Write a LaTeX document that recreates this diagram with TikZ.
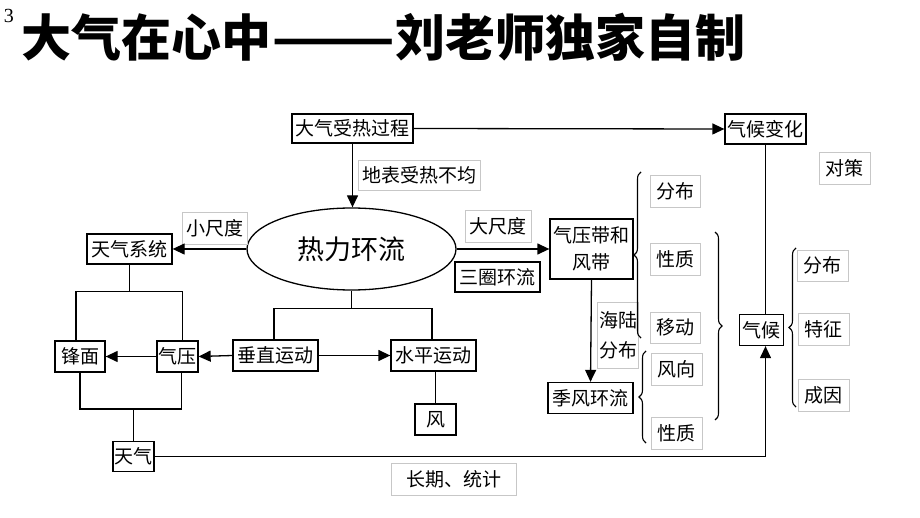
\documentclass[tikz,border=0pt]{standalone}
\usepackage{fontspec}
\newfontfamily\cjk{Noto Sans CJK SC}
\newfontfamily\tnr{Liberation Serif}
\usetikzlibrary{arrows.meta,shapes.geometric,decorations.pathreplacing,calc}
\begin{document}
\begin{tikzpicture}[x=1pt,y=-1pt,
  bx/.style={draw=black,line width=1.3pt,inner sep=0pt,font=\cjk\fontsize{19}{23}\selectfont,align=center},
  gbx/.style={draw=black!22,line width=0.8pt,inner sep=0pt,font=\cjk\fontsize{19}{23}\selectfont,align=center},
  ln/.style={line width=1.3pt},
  arr/.style={line width=1.3pt,-{Triangle[length=12pt,width=11pt]}},
  brc/.style={line width=1.1pt,decorate,decoration={brace,amplitude=7pt}}
]
\useasboundingbox (0,0) rectangle (920,518);
% title
\node[font=\tnr\fontsize{20}{22}\selectfont,inner sep=0pt] (num) at (9,16) {3};
\node[anchor=west,inner sep=0pt,font=\cjk\bfseries\fontsize{50}{55}\selectfont] (title) at (21,37) {大气在心中\scalebox{1.45}[1]{——}刘老师独家自制};
% black boxes
\node[bx,minimum width=121pt,minimum height=29pt] (heat) at (352.5,128.5) {大气受热过程};
\node[bx,minimum width=81pt,minimum height=30pt] (climch) at (765.5,129) {气候变化};
\node[bx,minimum width=85pt,minimum height=30pt] (tqxt) at (129.5,249) {天气系统};
\node[bx,minimum width=85pt,minimum height=30pt] (sqhl) at (497.5,277) {三圈环流};
\node[bx,minimum width=83pt,minimum height=60pt,font=\cjk\fontsize{19}{27}\selectfont] (qyd) at (591.5,249) {气压带和\\风带};
\node[bx,minimum width=50pt,minimum height=31pt] (fm) at (80,356.5) {锋面};
\node[bx,minimum width=41pt,minimum height=31pt] (qy) at (177.5,356.5) {气压};
\node[bx,minimum width=85pt,minimum height=31pt] (czyd) at (275.5,355.5) {垂直运动};
\node[bx,minimum width=85pt,minimum height=31pt] (spyd) at (433.5,355.5) {水平运动};
\node[bx,minimum width=41pt,minimum height=31pt] (feng) at (435.5,419.5) {风};
\node[bx,minimum width=41pt,minimum height=30pt] (tq) at (133.5,456.5) {天气};
\node[bx,minimum width=85pt,minimum height=31pt] (jfhl) at (590.5,398) {季风环流};
\node[bx,minimum width=44pt,minimum height=31pt] (qh) at (761.5,330) {气候};
% ellipse
\node[ellipse,draw,line width=1.3pt,minimum width=209pt,minimum height=82pt,inner sep=0pt,font=\cjk\fontsize{27}{30}\selectfont] (ell) at (351.5,249) {热力环流};
% gray label boxes
\node[gbx,minimum width=122pt,minimum height=30pt] (dbsr) at (419,175) {地表受热不均};
\node[gbx,minimum width=65pt,minimum height=32pt] (xcd) at (214.5,228) {小尺度};
\node[gbx,minimum width=66pt,minimum height=32pt] (dcd) at (498,226) {大尺度};
\node[gbx,minimum width=50pt,minimum height=32pt] (fb1) at (675,191) {分布};
\node[gbx,minimum width=50pt,minimum height=32pt] (xz1) at (675,259) {性质};
\node[gbx,minimum width=50pt,minimum height=31pt] (yd) at (675,327.5) {移动};
\node[gbx,minimum width=41pt,minimum height=66pt,font=\cjk\fontsize{19}{30}\selectfont] (hlfb) at (618,335.5) {海陆\\分布};
\node[gbx,minimum width=51pt,minimum height=32pt] (fx) at (676.5,369) {风向};
\node[gbx,minimum width=51pt,minimum height=32pt] (xz2) at (676.5,433) {性质};
\node[gbx,minimum width=51pt,minimum height=31pt] (fb2) at (822.5,265.5) {分布};
\node[gbx,minimum width=51pt,minimum height=32pt] (tz) at (823.5,329) {特征};
\node[gbx,minimum width=51pt,minimum height=32pt] (cy) at (823.5,395) {成因};
\node[gbx,minimum width=51pt,minimum height=32pt] (dc) at (844.5,168) {对策};
\node[gbx,minimum width=125pt,minimum height=32pt] (cqtj) at (453.5,479.5) {长期、统计};
% connectors
\draw[arr] (heat.east) -- (climch.west);
\draw[arr] (heat.south) -- (heat.south |- ell.north);
\draw[arr] (ell.west) -- (tqxt.east);
\draw[arr] (ell.east) -- (qyd.west);
\draw[arr] (qyd.south) -- (jfhl.north);
\coordinate (j1) at ($(ell.south)+(0,18)$);
\draw[ln] (ell.south) -- (j1);
\draw[ln] ([xshift=-1.5pt]czyd.north) |- (j1) -| ([xshift=-1.5pt]spyd.north);
\draw[arr] (czyd.west) -- (qy.east);
\draw[arr] (czyd.east) -- (spyd.west);
\draw[arr] (qy.west) -- (fm.east);
\draw[ln] (feng.north) -- (feng.north |- spyd.south);
\coordinate (j2) at ($(tqxt.south)+(1.5,27)$);
\draw[ln] (tqxt.south) -- (tqxt.south |- j2);
\draw[ln] ([xshift=-4pt]fm.north) |- (j2) -| ([xshift=5pt]qy.north);
\coordinate (j3) at ($(tq.north)+(-1.5,-32)$);
\draw[ln] (tq.north) -- (tq.north |- j3);
\draw[ln] (fm.south) |- (j3) -| ([xshift=4pt]qy.south);
\coordinate (qht) at (climch.south |- qh.north);
\coordinate (qhb) at (climch.south |- qh.south);
\draw[ln] (climch.south) -- (qht);
\draw[arr] (tq.east) -| (qhb);
% braces
\coordinate (b1a) at (641,338); \coordinate (b1b) at (641,172);
\draw[brc] (b1a) -- (b1b);
\coordinate (b2a) at (715,232); \coordinate (b2b) at (715,420);
\draw[brc] (b2a) -- (b2b);
\coordinate (b3a) at (646,443); \coordinate (b3b) at (646,351);
\draw[brc] (b3a) -- (b3b);
\coordinate (b4a) at (796,407); \coordinate (b4b) at (796,248);
\draw[brc] (b4a) -- (b4b);
\end{tikzpicture}
\end{document}
